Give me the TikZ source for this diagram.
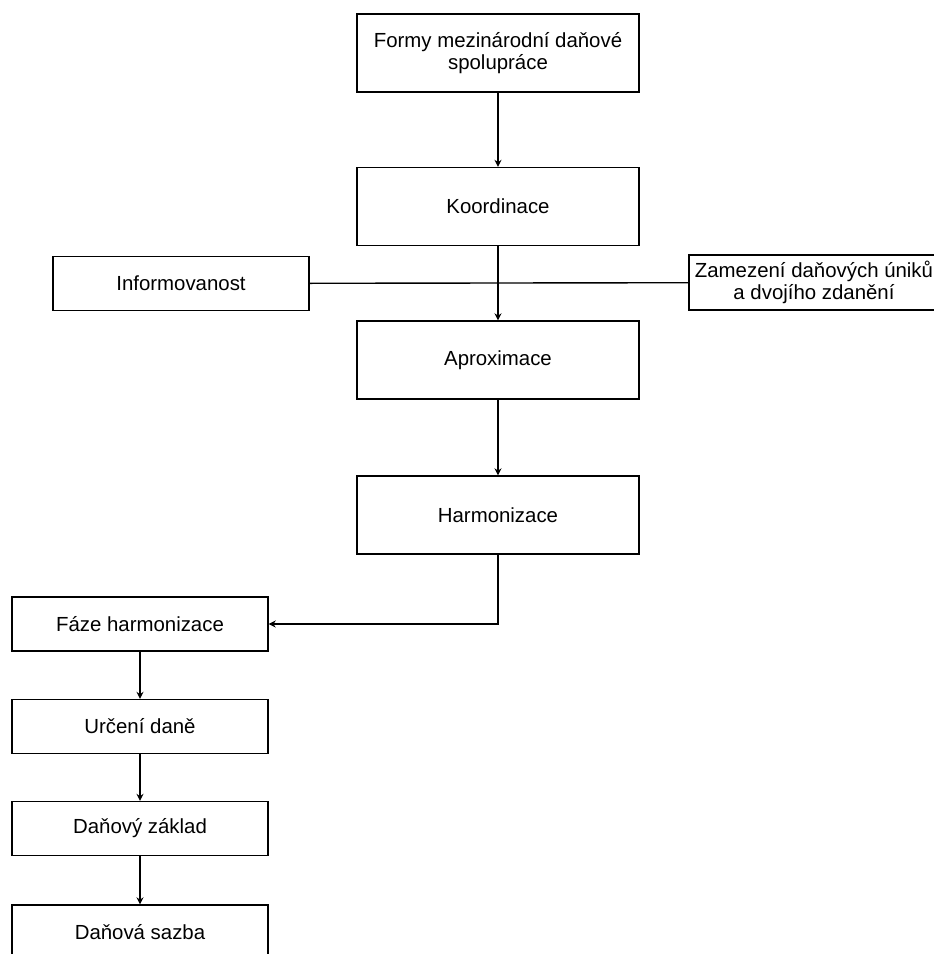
\documentclass[tikz,border=0pt]{standalone}
\usepackage{fontspec}
\setmainfont{Liberation Sans}
\usetikzlibrary{arrows.meta}

\begin{document}
\begin{tikzpicture}[x=0.5pt,y=-0.5pt,
  line width=0.7pt,
  >={Stealth[length=3.5pt,width=3.5pt]},
  box/.style={draw, font=\fontsize{10.2pt}{10.7pt}\selectfont, align=center, inner sep=1pt},
  bigbox/.style={box, minimum width=141pt, minimum height=39pt},
  smallbox/.style={box, minimum width=128pt, minimum height=27pt}]
\useasboundingbox (0,0) rectangle (933,954);
% main column
\node[bigbox] (formy) at (498,53) {Formy mezinárodní daňové\\spolupráce};
\node[bigbox] (koord) at (498,206.5) {Koordinace};
\node[bigbox] (aprox) at (498,360) {Aproximace};
\node[bigbox] (harm) at (498,515) {Harmonizace};
% side boxes
\node[smallbox] (info) at (181,283.5) {Informovanost};
\node[box, minimum width=125pt, minimum height=27.5pt] (zamez) at (814,282.5) {Zamezení daňových úniků\\a dvojího zdanění};
% left column
\node[smallbox] (faze) at (140,624) {Fáze harmonizace};
\node[smallbox] (urceni) at (140,726.5) {Určení daně};
\node[smallbox] (zaklad) at (140,828.5) {Daňový základ};
\node[smallbox] (sazba) at (140,932) {Daňová sazba};
\coordinate (ohyb) at (harm.south |- faze.east);
% connectors
\draw[->] (formy) -- (koord);
\draw (info) -- (zamez);
\draw[->] (koord) -- (aprox);
\draw[->] (aprox) -- (harm);
\draw[->] (harm) -- (ohyb) -- (faze);
\draw[->] (faze) -- (urceni);
\draw[->] (urceni) -- (zaklad);
\draw[->] (zaklad) -- (sazba);
\end{tikzpicture}
\end{document}
